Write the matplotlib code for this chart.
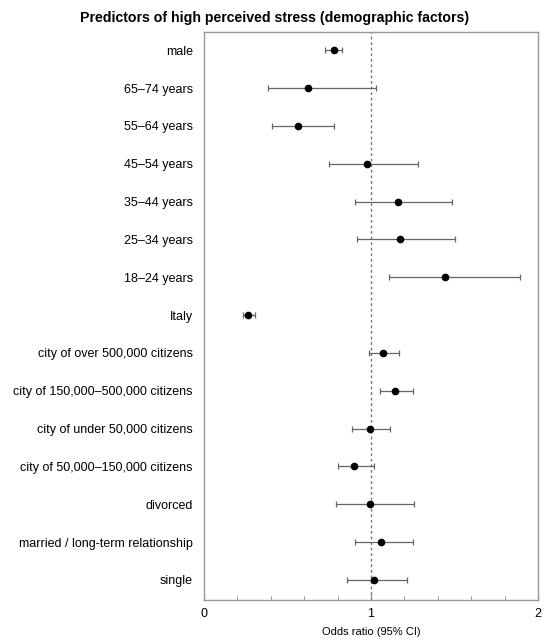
import matplotlib.pyplot as plt
import matplotlib.ticker as ticker
import numpy as np

plt.rcParams['font.family'] = ['Liberation Sans', 'DejaVu Sans']

# ── Data ──────────────────────────────────────────────────
labels = ["male", "65–74 years", "55–64 years", "45–54 years", "35–44 years",
          "25–34 years", "18–24 years", "Italy", "city of over 500,000 citizens",
          "city of 150,000–500,000 citizens", "city of under 50,000 citizens",
          "city of 50,000–150,000 citizens", "divorced",
          "married / long-term relationship", "single"]
odds = [0.776, 0.624, 0.560, 0.979, 1.159, 1.172, 1.446, 0.265,
        1.073, 1.145, 0.995, 0.899, 0.997, 1.061, 1.017]
ci_low = [0.726, 0.381, 0.407, 0.748, 0.903, 0.919, 1.107, 0.231,
          0.989, 1.053, 0.887, 0.800, 0.790, 0.903, 0.855]
ci_high = [0.828, 1.031, 0.776, 1.282, 1.486, 1.500, 1.894, 0.307,
           1.168, 1.252, 1.115, 1.015, 1.260, 1.252, 1.214]

# ── Figure ────────────────────────────────────────────────
fig = plt.figure(figsize=(5.5, 6.41), dpi=100)
ax = fig.add_axes([204/550, 1 - 600/641, (538-204)/550, (600-32)/641])

y = np.arange(len(labels))
odds = np.array(odds)
err = [odds - np.array(ci_low), np.array(ci_high) - odds]

ax.axvline(1, color='#777777', linestyle=(0, (2, 2)), linewidth=1, zorder=1)
ax.errorbar(odds, y, xerr=err, fmt='o', color='black', markersize=4.5,
            ecolor='#666666', elinewidth=0.9, capsize=2.5, capthick=0.9, zorder=3)

ax.set_yticks(y)
ax.set_yticklabels(labels, fontsize=9)
ax.set_ylim(len(labels) - 0.47, -0.48)
ax.tick_params(axis='y', length=0, pad=8)

ax.set_xlim(0, 2)
ax.set_xticks([0, 1, 2])
ax.xaxis.set_minor_locator(ticker.MultipleLocator(0.2))
ax.tick_params(axis='x', which='both', direction='in', colors='#888888',
               labelcolor='black', labelsize=9, pad=6)
ax.tick_params(axis='x', which='major', length=4)
ax.tick_params(axis='x', which='minor', length=3)
ax.set_xlabel('Odds ratio (95% CI)', fontsize=8, labelpad=5)

for s in ax.spines.values():
    s.set_color('#999999')
    s.set_linewidth(1)

fig.suptitle('Predictors of high perceived stress (demographic factors)',
             fontsize=10.2, fontweight='bold', x=0.5, y=0.983)

plt.savefig('out.png', dpi=100, facecolor='white')
plt.close()
